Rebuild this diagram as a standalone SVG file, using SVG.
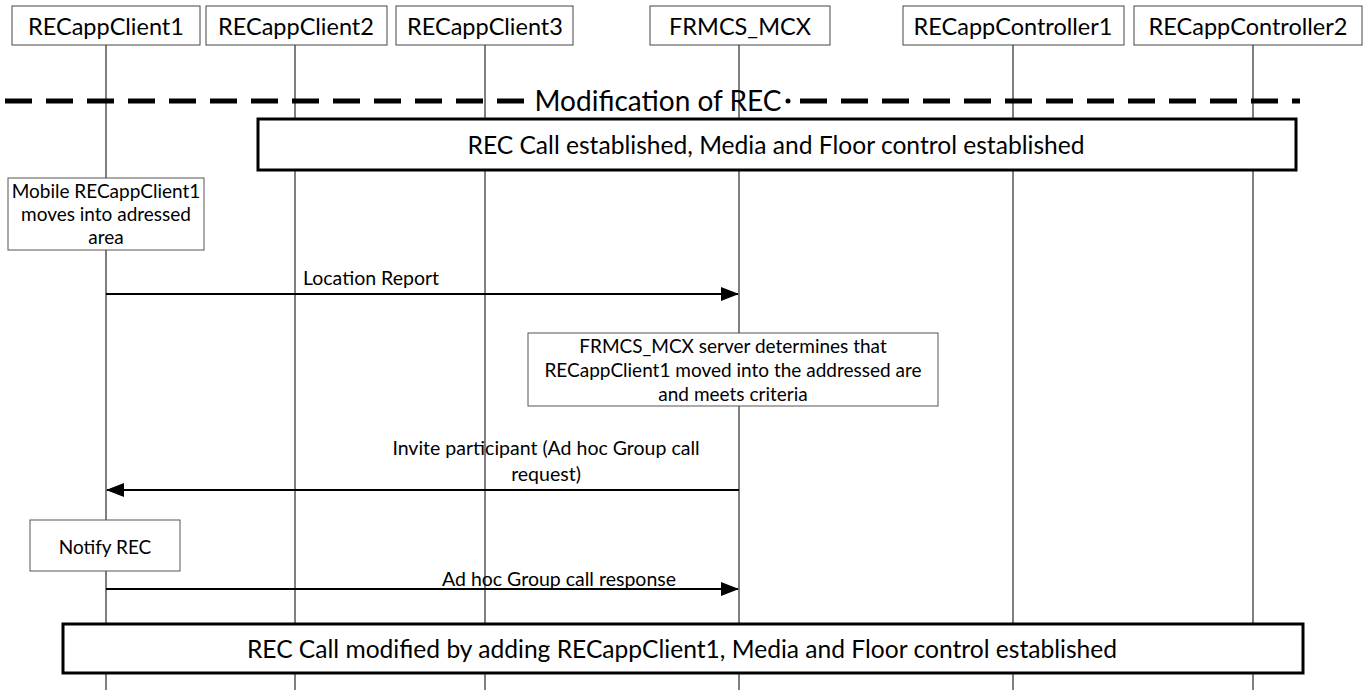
<svg xmlns="http://www.w3.org/2000/svg" width="1367" height="690" viewBox="0 0 1367 690">
<style>
text{font-family:Lato,"Open Sans","Liberation Sans",sans-serif;fill:#000;text-anchor:middle;dominant-baseline:central}
.hdr{fill:#fff;stroke:#444;stroke-width:1}
.hl{font-size:23.5px}
.life{stroke:#000;stroke-width:1}
.note{fill:#fff;stroke:#555;stroke-width:1}
.nt{font-size:19px}
.band{fill:#fff;stroke:#000;stroke-width:3}
.bt{font-size:24.6px}
.msg{stroke:#000;stroke-width:2;fill:none}
.ml{font-size:19.5px}
.dash{stroke:#000;stroke-width:5;stroke-dasharray:27 14;fill:none}
</style>
<defs>
<marker id="ah" markerWidth="18" markerHeight="14" refX="17" refY="7" orient="auto" markerUnits="userSpaceOnUse">
<path d="M0,0 L18,7 L0,14 z" fill="#000"/>
</marker>
</defs>
<g id="lifelines">
<line class="life" x1="106" y1="45" x2="106" y2="690"/>
<line class="life" x1="295" y1="45" x2="295" y2="690"/>
<line class="life" x1="485" y1="45" x2="485" y2="690"/>
<line class="life" x1="739" y1="45" x2="739" y2="690"/>
<line class="life" x1="1013" y1="45" x2="1013" y2="690"/>
<line class="life" x1="1253" y1="45" x2="1253" y2="690"/>
</g>
<g id="RECappClient1"><rect class="hdr" x="12" y="6" width="188" height="39"/><text class="hl" x="106" y="26">RECappClient1</text></g>
<g id="RECappClient2"><rect class="hdr" x="206" y="6" width="181" height="39"/><text class="hl" x="296" y="26">RECappClient2</text></g>
<g id="RECappClient3"><rect class="hdr" x="396" y="6" width="177" height="39"/><text class="hl" x="485" y="26">RECappClient3</text></g>
<g id="FRMCS_MCX"><rect class="hdr" x="650" y="6" width="180" height="39"/><text class="hl" x="740" y="26">FRMCS_MCX</text></g>
<g id="RECappController1"><rect class="hdr" x="903" y="6" width="221" height="39"/><text class="hl" x="1013" y="26">RECappController1</text></g>
<g id="RECappController2"><rect class="hdr" x="1134" y="6" width="228" height="39"/><text class="hl" x="1248" y="26">RECappController2</text></g>
<g id="section">
<path class="dash" d="M5,101 H531"/>
<path class="dash" d="M800,101 H1300"/>
<circle cx="788" cy="101" r="2.5" fill="#000"/>
<text x="658" y="100" style="font-size:28px">Modification of REC</text>
</g>
<g id="established"><rect class="band" x="258" y="119" width="1038" height="51"/><text class="bt" x="776" y="144">REC Call established, Media and Floor control established</text></g>
<g id="mobile"><rect class="note" x="8" y="178" width="196" height="72"/>
<text class="nt" x="106" y="190">Mobile RECappClient1</text>
<text class="nt" x="106" y="213">moves into adressed</text>
<text class="nt" x="106" y="236">area</text></g>
<g id="determine"><rect class="note" x="528" y="333" width="410" height="73"/>
<text class="nt" x="733" y="345">FRMCS_MCX server determines that</text>
<text class="nt" x="733" y="369">RECappClient1 moved into the addressed are</text>
<text class="nt" x="733" y="393">and meets criteria</text></g>
<g id="notify"><rect class="note" x="30" y="520" width="150" height="51"/><text class="nt" x="105" y="546">Notify REC</text></g>
<g id="modified"><rect class="band" x="63" y="624" width="1240" height="49"/><text class="bt" x="682" y="648">REC Call modified by adding RECappClient1, Media and Floor control established</text></g>
<g id="connectors">
<line class="msg" x1="106" y1="294" x2="738" y2="294" marker-end="url(#ah)"/>
<text class="ml" x="371" y="277">Location Report</text>
<line class="msg" x1="739" y1="490" x2="107" y2="490" marker-end="url(#ah)"/>
<text class="ml" x="546" y="447">Invite participant (Ad hoc Group call</text>
<text class="ml" x="546" y="473">request)</text>
<line class="msg" x1="106" y1="589" x2="738" y2="589" marker-end="url(#ah)"/>
<text class="ml" x="559" y="578">Ad hoc Group call response</text>
</g>
</svg>
